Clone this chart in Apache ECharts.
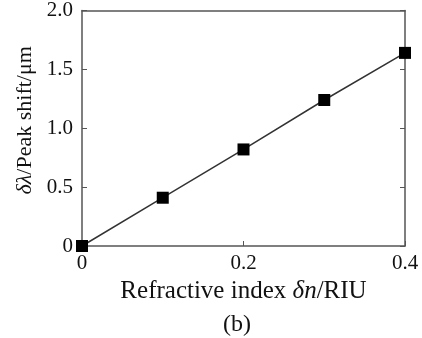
<!DOCTYPE html>
<html>
<head>
<meta charset="utf-8">
<script src="https://cdn.jsdelivr.net/npm/echarts@6/dist/echarts.min.js"></script>
<style>
html, body { margin: 0; padding: 0; background: #fff; }
#chart { width: 422px; height: 338px; }
</style>
</head>
<body>
<div id="chart"></div>
<script>
// refractive index change (RIU) and measured peak shift (um)
var deltaN = [0, 0.1, 0.2, 0.3, 0.4];
var peakShift = [0, 0.41, 0.82, 1.24, 1.64];
var xTicks = [0, 0.2, 0.4];
var yTicks = [0, 0.5, 1.0, 1.5, 2.0];

var serif = "Liberation Serif";
var axisColor = "#555";
var textColor = "#111";

var chart = echarts.init(document.getElementById("chart"));

var points = deltaN.map(function (x, i) { return [x, peakShift[i]]; });

function tickText(v) {
    return v === 0 ? "0" : v.toFixed(1);
}

var option = {
    animation: false,
    title: {
        text: "(b)",
        left: 232,
        top: 308,
        textAlign: "center",
        textStyle: { fontFamily: serif, fontSize: 24, fontWeight: "normal", color: textColor }
    },
    grid: { left: 82, right: 17, top: 10, bottom: 92 },
    xAxis: [
        {
            type: "value",
            min: xTicks[0],
            max: xTicks[xTicks.length - 1],
            interval: 0.2,
            position: "bottom",
            name: "Refractive index {i|δn}/RIU",
            nameLocation: "middle",
            nameGap: 33,
            nameTextStyle: {
                fontFamily: serif, fontSize: 25, color: textColor,
                rich: { i: { fontFamily: serif, fontStyle: "italic", fontSize: 25, color: textColor } }
            },
            axisLine: { onZero: false, lineStyle: { color: axisColor, width: 1.5 } },
            axisTick: { inside: true, length: 5, lineStyle: { color: axisColor } },
            splitLine: { show: false },
            axisLabel: {
                fontFamily: serif, fontSize: 21, color: textColor, margin: 7,
                formatter: tickText
            }
        },
        {
            type: "value",
            min: xTicks[0],
            max: xTicks[xTicks.length - 1],
            interval: 0.2,
            position: "top",
            axisLine: { onZero: false, lineStyle: { color: axisColor, width: 1.5 } },
            axisTick: { show: false },
            axisLabel: { show: false },
            splitLine: { show: false }
        }
    ],
    yAxis: [
        {
            type: "value",
            min: yTicks[0],
            max: yTicks[yTicks.length - 1],
            interval: 0.5,
            position: "left",
            name: "{i|δλ}/Peak shift/μm",
            nameLocation: "middle",
            nameGap: 40,
            nameTextStyle: {
                fontFamily: serif, fontSize: 22, color: textColor,
                padding: [0, 0, 0, 16],
                rich: { i: { fontFamily: serif, fontStyle: "italic", fontSize: 22, color: textColor } }
            },
            axisLine: { show: true, onZero: false, lineStyle: { color: axisColor, width: 1.5 } },
            axisTick: { show: true, inside: true, length: 5, lineStyle: { color: axisColor } },
            splitLine: { show: false },
            axisLabel: {
                fontFamily: serif, fontSize: 21, color: textColor, margin: 9,
                formatter: tickText
            }
        },
        {
            type: "value",
            min: yTicks[0],
            max: yTicks[yTicks.length - 1],
            interval: 0.5,
            position: "right",
            axisLine: { show: true, onZero: false, lineStyle: { color: axisColor, width: 1.5 } },
            axisTick: { show: true, inside: true, length: 5, lineStyle: { color: axisColor } },
            axisLabel: { show: false },
            splitLine: { show: false }
        }
    ],
    series: [
        {
            type: "line",
            data: points,
            symbol: "rect",
            symbolSize: 12,
            itemStyle: { color: "#000" },
            lineStyle: { color: "#333", width: 1.5 },
            z: 5
        }
    ]
};

chart.setOption(option);
</script>
</body>
</html>
